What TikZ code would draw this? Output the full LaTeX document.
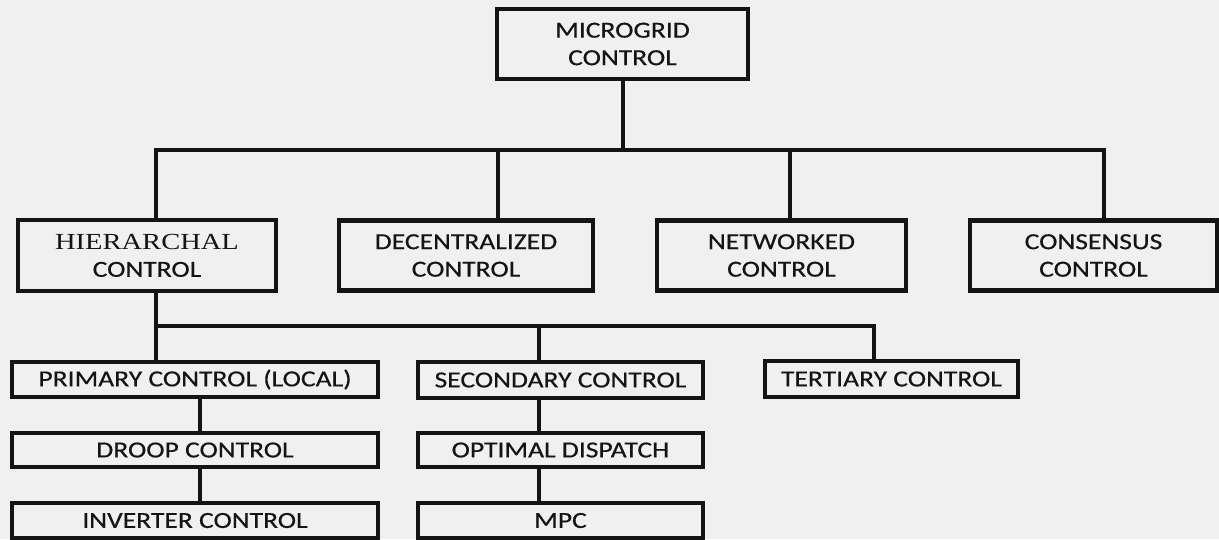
\documentclass[tikz,border=0pt]{standalone}
\usepackage{fontspec}
\setmainfont[FakeStretch=1.2,FakeBold=0.4]{Carlito}
\newfontfamily\hserif[FakeStretch=1.24]{Liberation Serif}
\definecolor{bg}{RGB}{240,240,240}
\definecolor{ink}{RGB}{20,20,20}
\begin{document}
\begin{tikzpicture}[x=1pt,y=-1pt,
  box/.style={draw=ink,line width=4.6pt,fill=bg,inner sep=0pt,align=center,
    text=ink,font=\fontsize{23}{27.5}\selectfont},
  conn/.style={draw=ink,line width=4.6pt}]
\fill[bg] (0,0) rectangle (1219,539);
\useasboundingbox (0,0) rectangle (1219,539);
% junction coordinates
\coordinate (j0) at (623,150);
\coordinate (b1l) at (156,150);
\coordinate (b1d) at (498,150);
\coordinate (b1n) at (790,150);
\coordinate (b1r) at (1104,150);
\coordinate (b2l) at (156,326);
\coordinate (b2s) at (539,326);
\coordinate (b2r) at (874,326);
\coordinate (cp) at (200,0);
\coordinate (cs) at (539,0);
% nodes
\node[box,minimum width=251pt,minimum height=70pt] (mg) at (622.5,44) {MICROGRID\\CONTROL};
\node[box,minimum width=258pt,minimum height=71pt] (hier) at (147,255.5) {{\hserif HIERARCHAL}\\CONTROL};
\node[box,minimum width=254pt,minimum height=70pt] (dec) at (466,255.5) {DECENTRALIZED\\CONTROL};
\node[box,minimum width=249pt,minimum height=70pt] (net) at (781.5,255.5) {NETWORKED\\CONTROL};
\node[box,minimum width=247pt,minimum height=70pt] (cons) at (1093.5,255.5) {CONSENSUS\\CONTROL};
\node[box,minimum width=366pt,minimum height=35pt] (prim) at (195,379.5) {PRIMARY CONTROL (LOCAL)};
\node[box,minimum width=285pt,minimum height=36pt] (sec) at (560.5,380) {SECONDARY CONTROL};
\node[box,minimum width=253pt,minimum height=36pt] (tert) at (891.5,379) {TERTIARY CONTROL};
\node[box,minimum width=366pt,minimum height=34pt] (droop) at (195,450) {DROOP CONTROL};
\node[box,minimum width=285pt,minimum height=34pt] (opt) at (560.5,450) {OPTIMAL DISPATCH};
\node[box,minimum width=366pt,minimum height=35pt] (inv) at (195,520.5) {INVERTER CONTROL};
\node[box,minimum width=285pt,minimum height=35pt] (mpc) at (560.5,520.5) {MPC};
% connectors
\draw[conn] (mg.south -| j0) -- (j0);
\draw[conn] ([xshift=-2.3pt]b1l) -- ([xshift=2.3pt]b1r);
\draw[conn] ([yshift=-2.3pt]b1l) -- (b1l |- hier.north);
\draw[conn] (b1d) -- (b1d |- dec.north);
\draw[conn] (b1n) -- (b1n |- net.north);
\draw[conn] ([yshift=-2.3pt]b1r) -- (b1r |- cons.north);
\draw[conn] (hier.south -| b2l) -- (b2l |- prim.north);
\draw[conn] ([xshift=-2.3pt]b2l) -- ([xshift=2.3pt]b2r);
\draw[conn] (b2s) -- (b2s |- sec.north);
\draw[conn] ([yshift=-2.3pt]b2r) -- (b2r |- tert.north);
\draw[conn] (prim.south -| cp) -- (droop.north -| cp);
\draw[conn] (droop.south -| cp) -- (inv.north -| cp);
\draw[conn] (sec.south -| cs) -- (opt.north -| cs);
\draw[conn] (opt.south -| cs) -- (mpc.north -| cs);
\end{tikzpicture}
\end{document}
